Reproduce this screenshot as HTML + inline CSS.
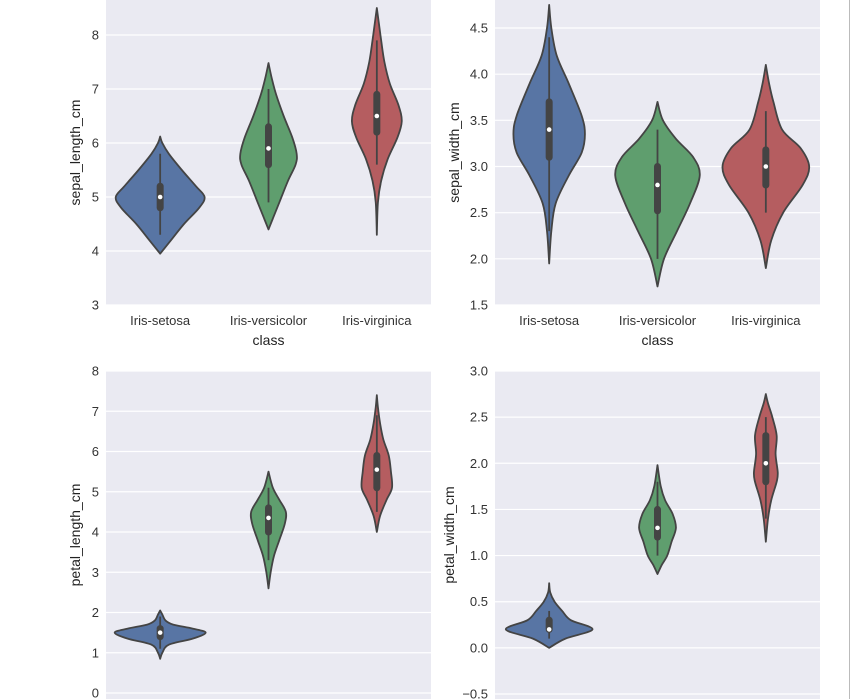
<!DOCTYPE html>
<html><head><meta charset="utf-8">
<style>
html,body{margin:0;padding:0;background:#fff;}
svg{display:block;font-family:"Liberation Sans",Arial,sans-serif;}
</style></head>
<body>
<svg id="chart" width="851" height="699" viewBox="0 0 851 699" xmlns="http://www.w3.org/2000/svg">
<line x1="849.5" y1="0" x2="849.5" y2="699" stroke="#bbb" stroke-width="1"/>
</svg>
<script>
const categories = ["Iris-setosa","Iris-versicolor","Iris-virginica"];
const colors = ["#5875A4","#5F9E6E","#B55D60"];
// density profiles: [value, half-width as fraction of category spacing]
const sepalLengthProfiles = [
 [[3.95,0],[4.2,0.1],[4.5,0.22],[4.8,0.36],[5.0,0.41],[5.2,0.33],[5.5,0.2],[5.8,0.08],[6.0,0.02],[6.12,0]],
 [[4.4,0],[4.6,0.04],[4.9,0.1],[5.3,0.18],[5.6,0.25],[5.8,0.26],[6.1,0.22],[6.5,0.14],[6.9,0.07],[7.2,0.03],[7.48,0]],
 [[4.3,0],[4.9,0.01],[5.3,0.04],[5.7,0.1],[6.1,0.19],[6.4,0.23],[6.7,0.2],[7.1,0.12],[7.5,0.07],[7.9,0.04],[8.2,0.02],[8.5,0]]
];
const sepalLengthBoxes = [[4.3,4.8,5.0,5.2,5.8],[4.9,5.6,5.9,6.3,7.0],[5.6,6.2,6.5,6.9,7.9]];
const sepalWidthProfiles = [
 [[1.95,0],[2.3,0.02],[2.6,0.06],[2.9,0.18],[3.15,0.3],[3.35,0.33],[3.55,0.3],[3.9,0.18],[4.2,0.07],[4.5,0.02],[4.75,0]],
 [[1.7,0],[2.0,0.06],[2.3,0.18],[2.6,0.3],[2.9,0.39],[3.1,0.33],[3.3,0.17],[3.5,0.05],[3.7,0]],
 [[1.9,0],[2.2,0.05],[2.5,0.16],[2.8,0.34],[3.0,0.4],[3.2,0.32],[3.4,0.15],[3.7,0.07],[3.9,0.03],[4.1,0]]
];
const sepalWidthBoxes = [[2.3,3.1,3.4,3.7,4.4],[2.0,2.52,2.8,3.0,3.4],[2.5,2.8,3.0,3.18,3.6]];
const petalLengthProfiles = [
 [[0.85,0],[1.0,0.02],[1.2,0.08],[1.35,0.3],[1.5,0.42],[1.6,0.3],[1.7,0.12],[1.8,0.05],[1.95,0.02],[2.05,0]],
 [[2.6,0],[3.0,0.02],[3.4,0.05],[3.8,0.1],[4.2,0.15],[4.5,0.16],[4.8,0.1],[5.1,0.04],[5.5,0]],
 [[4.0,0],[4.4,0.03],[4.8,0.09],[5.1,0.14],[5.5,0.13],[5.9,0.11],[6.3,0.06],[6.7,0.03],[7.1,0.01],[7.4,0]]
];
const petalLengthBoxes = [[1.1,1.4,1.5,1.6,1.9],[3.3,4.0,4.35,4.6,5.1],[4.5,5.1,5.55,5.9,6.9]];
const petalWidthProfiles = [
 [[0,0],[0.1,0.15],[0.2,0.4],[0.3,0.2],[0.4,0.12],[0.5,0.05],[0.6,0.01],[0.7,0]],
 [[0.8,0],[0.9,0.04],[1.0,0.09],[1.15,0.13],[1.3,0.17],[1.45,0.14],[1.6,0.07],[1.75,0.03],[1.98,0]],
 [[1.15,0],[1.4,0.02],[1.6,0.05],[1.8,0.1],[1.9,0.11],[2.1,0.09],[2.3,0.1],[2.5,0.06],[2.65,0.02],[2.75,0]]
];
const petalWidthBoxes = [[0.1,0.2,0.2,0.3,0.4],[1.0,1.2,1.3,1.5,1.8],[1.4,1.8,2.0,2.3,2.5]];
const sepalLengthTicks = [3,4,5,6,7,8];
const sepalWidthTicks = [1.5,2.0,2.5,3.0,3.5,4.0,4.5];
const petalLengthTicks = [0,1,2,3,4,5,6,7,8];
const petalWidthTicks = [-0.5,0.0,0.5,1.0,1.5,2.0,2.5,3.0];

const NS="http://www.w3.org/2000/svg";
const svg=document.getElementById('chart');
function mk(tag,attrs,parent){const e=document.createElementNS(NS,tag);for(const k in attrs)e.setAttribute(k,attrs[k]);(parent||svg).appendChild(e);return e;}

const panels=[
 {name:'sepal-length',x0:106,x1:431,top:-5,bottom:305,v0:3,p0:305,v1:8,p1:35,ticks:sepalLengthTicks,dec:0,title:'sepal_length_cm',tx:80,prof:sepalLengthProfiles,box:sepalLengthBoxes,xlab:true},
 {name:'sepal-width',x0:495,x1:820,top:-5,bottom:305,v0:1.5,p0:305,v1:4.5,p1:28,ticks:sepalWidthTicks,dec:1,title:'sepal_width_cm',tx:459,prof:sepalWidthProfiles,box:sepalWidthBoxes,xlab:true},
 {name:'petal-length',x0:106,x1:431,top:371,bottom:705,v0:0,p0:693,v1:8,p1:371,ticks:petalLengthTicks,dec:0,title:'petal_length_cm',tx:80,prof:petalLengthProfiles,box:petalLengthBoxes,xlab:false},
 {name:'petal-width',x0:495,x1:820,top:371,bottom:705,v0:-0.5,p0:694,v1:3.0,p1:371,ticks:petalWidthTicks,dec:1,title:'petal_width_cm',tx:454,prof:petalWidthProfiles,box:petalWidthBoxes,xlab:false}
];

function smoothPath(pts){
 let d='M'+pts[0][0]+','+pts[0][1];
 for(let i=0;i<pts.length-1;i++){
  const p0=pts[Math.max(i-1,0)],p1=pts[i],p2=pts[i+1],p3=pts[Math.min(i+2,pts.length-1)];
  const c1=[p1[0]+(p2[0]-p0[0])/6,p1[1]+(p2[1]-p0[1])/6];
  const c2=[p2[0]-(p3[0]-p1[0])/6,p2[1]-(p3[1]-p1[1])/6];
  d+=' C'+c1[0].toFixed(2)+','+c1[1].toFixed(2)+' '+c2[0].toFixed(2)+','+c2[1].toFixed(2)+' '+p2[0].toFixed(2)+','+p2[1].toFixed(2);
 }
 return d;
}

panels.forEach(P=>{
 const g=mk('g',{});
 
 
 const y=v=>P.p0+(v-P.v0)*(P.p1-P.p0)/(P.v1-P.v0);
 const step=(P.x1-P.x0)/categories.length;
 const cx=i=>P.x0+step*(i+0.5);
 const bg=mk('rect',{x:P.x0,y:P.top,width:P.x1-P.x0,height:P.bottom-P.top,fill:'#EAEAF2'},g);
 
 
 P.ticks.forEach(t=>{
  const gl=mk('line',{x1:P.x0,x2:P.x1,y1:y(t),y2:y(t),stroke:'#fff','stroke-width':1.2},g);
  
  
  const tl=mk('text',{x:P.x0-7,y:y(t)+4.5,'text-anchor':'end','font-size':13,fill:'#333'},g);
  tl.textContent=(t<0?'\u2212':'')+Math.abs(t).toFixed(P.dec);
  
  
 });
 const ym=(P.top<0?(0+P.bottom)/2:(P.top+Math.min(P.bottom,699))/2);
 const at=mk('text',{x:P.tx,y:ym,'text-anchor':'middle','font-size':14,fill:'#222',transform:'rotate(-90 '+P.tx+' '+ym+')'},g);
 at.textContent=P.title;
 
 
 categories.forEach((c,i)=>{
  const prof=P.prof[i];
  const right=prof.map(p=>[cx(i)+p[1]*step,y(p[0])]);
  const left=prof.slice().reverse().map(p=>[cx(i)-p[1]*step,y(p[0])]);
  const d=smoothPath(right)+' L'+smoothPath(left).slice(1)+' Z';
  const v=mk('path',{d:d,fill:colors[i],stroke:'#444','stroke-width':1.8,'stroke-linejoin':'round'},g);
  
  
  const b=P.box[i];
  const w=mk('line',{x1:cx(i),x2:cx(i),y1:y(b[0]),y2:y(b[4]),stroke:'#444','stroke-width':1.8},g);
  
  
  const bx=mk('line',{x1:cx(i),x2:cx(i),y1:y(b[1]),y2:y(b[3]),stroke:'#444','stroke-width':7,'stroke-linecap':'round'},g);
  
  
  const m=mk('circle',{cx:cx(i),cy:y(b[2]),r:2.3,fill:'#fff'},g);
  
  
  if(P.xlab){
   const xl=mk('text',{x:cx(i),y:325,'text-anchor':'middle','font-size':13,fill:'#333'},g);
   xl.textContent=c;
   
   
  }
 });
 if(P.xlab){
  const xt=mk('text',{x:(P.x0+P.x1)/2,y:345,'text-anchor':'middle','font-size':14,fill:'#222'},g);
  xt.textContent='class';
  
  
 }
});
</script>
</body></html>
